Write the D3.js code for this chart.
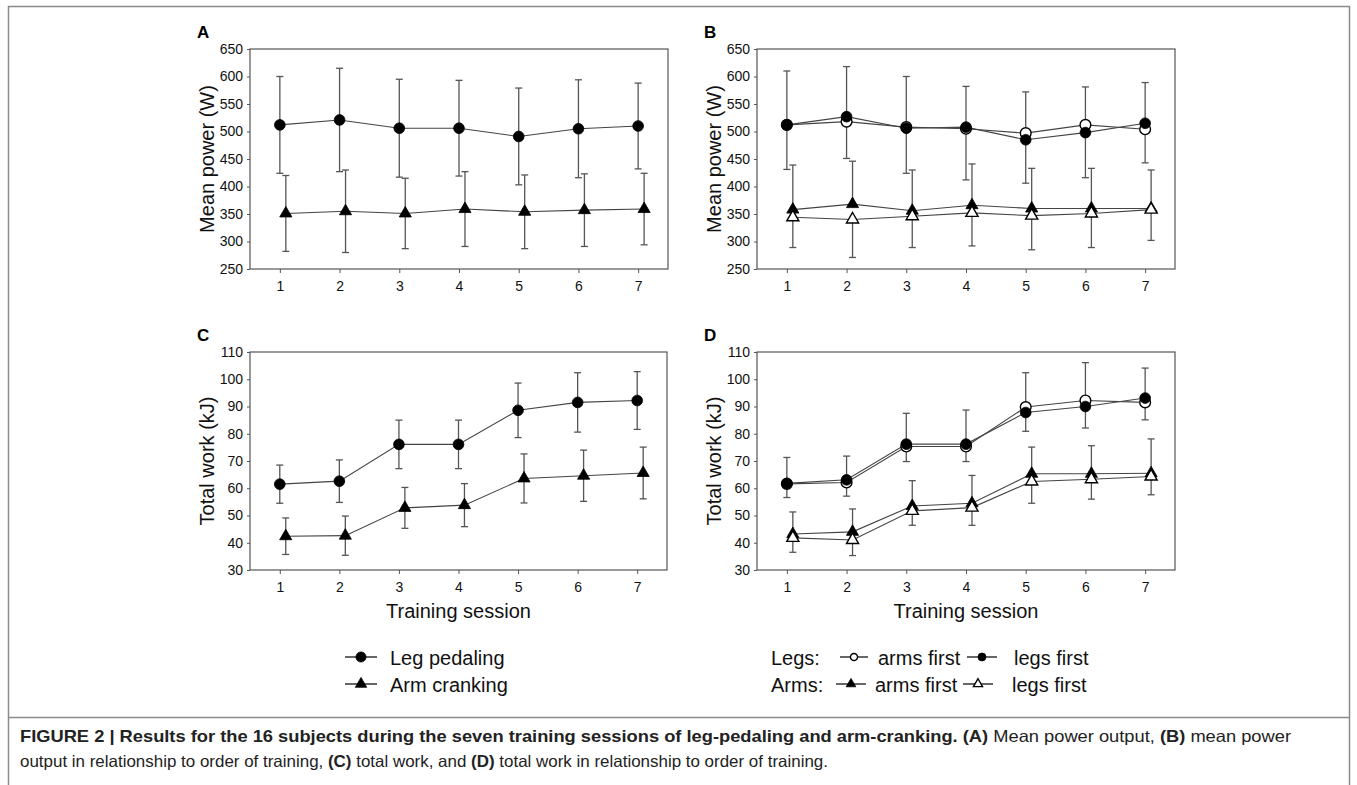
<!DOCTYPE html>
<html>
<head>
<meta charset="utf-8">
<script src="https://cdn.jsdelivr.net/npm/d3@7"></script>
<style>
  html, body { margin: 0; padding: 0; background: #fff; }
  svg { display: block; font-family: "Liberation Sans", Arial, sans-serif; }
</style>
</head>
<body>
<svg id="fig" width="1357" height="785"></svg>
<script>
// Training sessions
const sessions = [1, 2, 3, 4, 5, 6, 7];

// Panel A: mean power (W), mean and SD
const aLegMean = [512, 521, 506, 506, 491, 505, 510];
const aLegSd   = [88, 94, 89, 87, 88, 89, 78];
const aArmMean = [351, 355, 351, 359, 354, 357, 359];
const aArmSd   = [69, 75, 64, 68, 67, 66, 65];

// Panel B: mean power by order of training
const bLegsArmsFirst   = [512, 518, 508, 505, 497, 512, 504];
const bLegsArmsFirstSd = [98, 100, 92, 77, 75, 69, 85];
const bLegsLegsFirst   = [512, 527, 506, 508, 485, 498, 515];
const bLegsLegsFirstSd = [81, 76, 82, 96, 79, 82, 72];
const bArmsArmsFirst   = [358, 368, 356, 366, 360, 360, 360];
const bArmsArmsFirstSd = [81, 78, 74, 75, 73, 73, 70];
const bArmsLegsFirst   = [344, 340, 346, 352, 347, 351, 358];
const bArmsLegsFirstSd = [55, 69, 57, 60, 62, 62, 56];

// Panel C: total work (kJ)
const cLegMean = [61.5, 62.6, 76.1, 76.1, 88.6, 91.5, 92.2];
const cLegSd   = [7.0, 7.8, 8.9, 8.9, 10.0, 10.9, 10.6];
const cArmMean = [42.4, 42.6, 52.8, 53.8, 63.6, 64.6, 65.6];
const cArmSd   = [6.7, 7.2, 7.5, 7.9, 9.0, 9.4, 9.5];

// Panel D: total work by order of training
const dLegsArmsFirst   = [61.6, 62.1, 75.3, 75.3, 89.8, 92.2, 91.5];
const dLegsArmsFirstSd = [9.7, 9.7, 12.2, 13.4, 12.6, 13.9, 12.6];
const dLegsLegsFirst   = [61.8, 63.1, 76.2, 76.2, 87.8, 90.0, 93.1];
const dLegsLegsFirstSd = [5.2, 6.0, 6.4, 6.4, 6.9, 7.9, 8.0];
const dArmsArmsFirst   = [43.2, 44.0, 53.5, 54.5, 65.3, 65.3, 65.5];
const dArmsArmsFirstSd = [8.1, 8.4, 9.3, 10.2, 9.8, 10.3, 12.6];
const dArmsLegsFirst   = [41.8, 41.0, 51.7, 52.9, 62.5, 63.3, 64.3];
const dArmsLegsFirstSd = [5.3, 5.7, 5.3, 6.5, 8.0, 7.3, 6.7];

const powerTicks = [250, 300, 350, 400, 450, 500, 550, 600, 650];
const workTicks = [30, 40, 50, 60, 70, 80, 90, 100, 110];

const svg = d3.select("#fig");

// outer figure frame
const frame = svg.append("g").attr("stroke", "#8a8a8a").attr("stroke-width", 1.5).attr("fill", "none");
frame.append("path").attr("d", "M8.5,790 V6.5 H1349.5 V790");
frame.append("line").attr("x1", 8).attr("x2", 1349).attr("y1", 717.5).attr("y2", 717.5);

function marker(g, shape, filled, x, y, size) {
  const sym = shape === "circle" ? d3.symbolCircle : d3.symbolTriangle;
  g.append("path")
    .attr("d", d3.symbol().type(sym).size(size)())
    .attr("transform", `translate(${x},${y})`)
    .attr("fill", filled ? "#000" : "#fff")
    .attr("stroke", "#000")
    .attr("stroke-width", filled ? 0.8 : 1.4);
}

function drawPanel(p) {
  const g = svg.append("g").attr("transform", `translate(${p.left},${p.top})`);
  const x = d3.scaleLinear().domain([0.5, 7.5]).range([0, p.width]);
  const y = d3.scaleLinear().domain(p.yDomain).range([p.height, 0]);

  // axes
  const yAxis = g.append("g").call(d3.axisLeft(y).tickValues(p.yTicks).tickFormat(d3.format("d"))
    .tickSize(3).tickPadding(4).tickSizeOuter(0));
  const xAxis = g.append("g").attr("transform", `translate(0,${p.height})`)
    .call(d3.axisBottom(x).tickValues(sessions).tickFormat(d3.format("d"))
      .tickSize(4).tickPadding(8).tickSizeOuter(0));
  [yAxis, xAxis].forEach(a => {
    a.select(".domain").remove();
    a.selectAll("line").attr("stroke", "#555");
    a.selectAll("text").attr("font-size", 14).attr("fill", "#111")
      .attr("font-family", "'Liberation Sans', Arial, sans-serif");
  });

  g.append("rect").attr("width", p.width).attr("height", p.height)
    .attr("fill", "none").attr("stroke", "#555").attr("stroke-width", 1.2);

  // error bars
  p.series.forEach(s => {
    const eb = g.append("g").attr("stroke", "#555").attr("stroke-width", 1.3);
    sessions.forEach((t, i) => {
      const cx = x(t + s.dx);
      const m = s.mean[i], sd = s.sd[i];
      const hi = s.dir === "down" ? m : m + sd;
      const lo = s.dir === "up" ? m : m - sd;
      eb.append("line").attr("x1", cx).attr("x2", cx).attr("y1", y(hi)).attr("y2", y(lo));
      if (s.dir !== "down") eb.append("line").attr("x1", cx - 3.5).attr("x2", cx + 3.5).attr("y1", y(hi)).attr("y2", y(hi));
      if (s.dir !== "up") eb.append("line").attr("x1", cx - 3.5).attr("x2", cx + 3.5).attr("y1", y(lo)).attr("y2", y(lo));
    });
  });

  // connecting lines
  const line = d3.line().x(d => x(d[0])).y(d => y(d[1]));
  p.series.forEach(s => {
    g.append("path")
      .datum(sessions.map((t, i) => [t + s.dx, s.mean[i]]))
      .attr("d", line).attr("fill", "none").attr("stroke", "#444").attr("stroke-width", 1.1);
  });

  // markers
  p.series.forEach(s => {
    sessions.forEach((t, i) => marker(g, s.shape, s.filled, x(t + s.dx), y(s.mean[i]), s.shape === "circle" ? 90 : 64));
  });

  // panel letter
  svg.append("text").attr("x", p.left - 53).attr("y", p.top - 11)
    .attr("font-size", 17).attr("font-weight", "bold").text(p.letter);

  // y label
  svg.append("text")
    .attr("transform", `translate(${p.left - 43},${p.top + p.height / 2}) rotate(-90)`)
    .attr("text-anchor", "middle").attr("dy", "0.35em").attr("font-size", 20).attr("fill", "#111")
    .text(p.yLabel);

  if (p.xLabel) {
    svg.append("text").attr("x", p.left + p.width / 2).attr("y", p.top + p.height + 48)
      .attr("text-anchor", "middle").attr("font-size", 20).attr("fill", "#111").text(p.xLabel);
  }
}

drawPanel({
  left: 250, top: 49, width: 418, height: 220, letter: "A",
  yDomain: [250, 650], yTicks: powerTicks, yLabel: "Mean power (W)",
  series: [
    { mean: aArmMean, sd: aArmSd, dir: "both", shape: "triangle", filled: true, dx: 0.1 },
    { mean: aLegMean, sd: aLegSd, dir: "both", shape: "circle", filled: true, dx: 0 }
  ]
});

drawPanel({
  left: 757, top: 49, width: 418, height: 220, letter: "B",
  yDomain: [250, 650], yTicks: powerTicks, yLabel: "Mean power (W)",
  series: [
    { mean: bArmsArmsFirst, sd: bArmsArmsFirstSd, dir: "up", shape: "triangle", filled: true, dx: 0.1 },
    { mean: bArmsLegsFirst, sd: bArmsLegsFirstSd, dir: "down", shape: "triangle", filled: false, dx: 0.1 },
    { mean: bLegsArmsFirst, sd: bLegsArmsFirstSd, dir: "up", shape: "circle", filled: false, dx: 0 },
    { mean: bLegsLegsFirst, sd: bLegsLegsFirstSd, dir: "down", shape: "circle", filled: true, dx: 0 }
  ]
});

drawPanel({
  left: 250, top: 352, width: 417, height: 218, letter: "C",
  yDomain: [30, 110], yTicks: workTicks, yLabel: "Total work (kJ)", xLabel: "Training session",
  series: [
    { mean: cArmMean, sd: cArmSd, dir: "both", shape: "triangle", filled: true, dx: 0.1 },
    { mean: cLegMean, sd: cLegSd, dir: "both", shape: "circle", filled: true, dx: 0 }
  ]
});

drawPanel({
  left: 757, top: 352, width: 418, height: 218, letter: "D",
  yDomain: [30, 110], yTicks: workTicks, yLabel: "Total work (kJ)", xLabel: "Training session",
  series: [
    { mean: dArmsArmsFirst, sd: dArmsArmsFirstSd, dir: "up", shape: "triangle", filled: true, dx: 0.1 },
    { mean: dArmsLegsFirst, sd: dArmsLegsFirstSd, dir: "down", shape: "triangle", filled: false, dx: 0.1 },
    { mean: dLegsArmsFirst, sd: dLegsArmsFirstSd, dir: "up", shape: "circle", filled: false, dx: 0 },
    { mean: dLegsLegsFirst, sd: dLegsLegsFirstSd, dir: "down", shape: "circle", filled: true, dx: 0 }
  ]
});

// legends
function legendKey(x1, x2, y, shape, filled, size) {
  const g = svg.append("g");
  g.append("line").attr("x1", x1).attr("x2", x2).attr("y1", y).attr("y2", y).attr("stroke", "#000").attr("stroke-width", 1.2);
  marker(g, shape, filled, (x1 + x2) / 2, y, size);
}
function legendText(x, y, txt) {
  svg.append("text").attr("x", x).attr("y", y).attr("dy", "0.35em").attr("font-size", 20).attr("fill", "#111").text(txt);
}

legendKey(345, 377, 657, "circle", true, 80);
legendText(390, 658, "Leg pedaling");
legendKey(345, 377, 684, "triangle", true, 56);
legendText(390, 685, "Arm cranking");

legendText(771, 658, "Legs:");
legendKey(840, 868, 657, "circle", false, 40);
legendText(878, 658, "arms first");
legendKey(967, 997, 657, "circle", true, 50);
legendText(1014, 658, "legs first");
legendText(771, 685, "Arms:");
legendKey(836, 866, 684, "triangle", true, 40);
legendText(875, 685, "arms first");
legendKey(963, 993, 684, "triangle", false, 36);
legendText(1012, 685, "legs first");

// caption
const capFont = "'Liberation Sans Narrow', 'Arial Narrow', 'Liberation Sans', sans-serif";
const cap1 = svg.append("text").attr("x", 20).attr("y", 742).attr("font-size", 16.5)
  .attr("font-family", capFont)
  .attr("textLength", 1271).attr("lengthAdjust", "spacingAndGlyphs").attr("fill", "#222");
cap1.append("tspan").attr("font-weight", "bold").text("FIGURE 2 | Results for the 16 subjects during the seven training sessions of leg-pedaling and arm-cranking. (A)");
cap1.append("tspan").text(" Mean power output, ");
cap1.append("tspan").attr("font-weight", "bold").text("(B)");
cap1.append("tspan").text(" mean power");

const cap2 = svg.append("text").attr("x", 20).attr("y", 767).attr("font-size", 16.5)
  .attr("font-family", capFont)
  .attr("textLength", 808).attr("lengthAdjust", "spacingAndGlyphs").attr("fill", "#222");
cap2.append("tspan").text("output in relationship to order of training, ");
cap2.append("tspan").attr("font-weight", "bold").text("(C)");
cap2.append("tspan").text(" total work, and ");
cap2.append("tspan").attr("font-weight", "bold").text("(D)");
cap2.append("tspan").text(" total work in relationship to order of training.");
</script>
</body>
</html>
